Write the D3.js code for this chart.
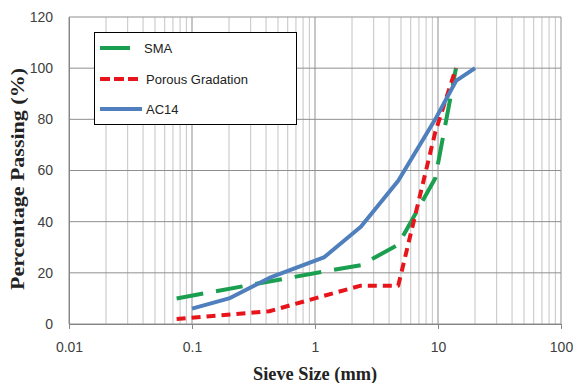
<!DOCTYPE html>
<html>
<head>
<meta charset="utf-8">
<script src="https://cdn.jsdelivr.net/npm/d3@7/dist/d3.min.js"></script>
<style>
  body { margin: 0; background: #fff; }
  svg { display: block; }
</style>
</head>
<body>
<div id="chart"></div>
<script>
// sieve sizes (mm) and percentage passing
const smaSizes = [0.075, 1.18, 2.36, 4.75, 9.5, 14];
const smaValues = [10, 20.5, 23, 31, 57, 100];

const porousSizes = [0.075, 0.425, 1.18, 2.36, 4.75, 9.5, 14];
const porousValues = [2, 5, 11, 15, 15, 75, 100];

const ac14Sizes = [0.1, 0.2, 0.425, 1.18, 2.36, 4.75, 9.5, 14, 20];
const ac14Values = [6, 10, 18, 26, 38, 56, 80, 95, 100];

const xTicks = [0.01, 0.1, 1, 10, 100];
const xTickLabels = ['0.01', '0.1', '1', '10', '100'];
const yTicks = [0, 20, 40, 60, 80, 100, 120];

const width = 574, height = 383;
const margin = { top: 17, right: 13, bottom: 59, left: 69 };

const svg = d3.select('#chart')
  .append('svg')
  .attr('width', width)
  .attr('height', height);

const x = d3.scaleLog()
  .domain([0.01, 100])
  .range([margin.left, width - margin.right]);

const y = d3.scaleLinear()
  .domain([0, 120])
  .range([height - margin.bottom, margin.top]);

// minor vertical gridlines, 2..9 in every decade
const minor = [];
for (let d = 0.01; d < 100; d *= 10) {
  for (let k = 2; k <= 9; k++) minor.push(d * k);
}

svg.append('g')
  .selectAll('line')
  .data(minor)
  .enter()
  .append('line')
  .attr('x1', d => x(d))
  .attr('x2', d => x(d))
  .attr('y1', y(0))
  .attr('y2', y(120))
  .attr('stroke', '#c4c4c4')
  .attr('stroke-width', 1);

// major vertical gridlines
svg.append('g')
  .selectAll('line')
  .data(xTicks)
  .enter()
  .append('line')
  .attr('x1', d => x(d))
  .attr('x2', d => x(d))
  .attr('y1', y(0))
  .attr('y2', y(120))
  .attr('stroke', '#8f8f8f')
  .attr('stroke-width', 1);

// horizontal gridlines
svg.append('g')
  .selectAll('line')
  .data(yTicks)
  .enter()
  .append('line')
  .attr('x1', x(0.01))
  .attr('x2', x(100))
  .attr('y1', d => y(d))
  .attr('y2', d => y(d))
  .attr('stroke', '#8f8f8f')
  .attr('stroke-width', 1);

// axes
const xAxis = d3.axisBottom(x)
  .tickValues(xTicks)
  .tickFormat((d, i) => xTickLabels[i])
  .tickSizeInner(5)
  .tickSizeOuter(0)
  .tickPadding(13);

const yAxis = d3.axisLeft(y)
  .tickValues(yTicks)
  .tickSizeInner(0)
  .tickSizeOuter(0)
  .tickPadding(16);

const gx = svg.append('g')
  .attr('transform', `translate(0, ${y(0)})`)
  .call(xAxis);

const gy = svg.append('g')
  .attr('transform', `translate(${x(0.01)}, 0)`)
  .call(yAxis);

[gx, gy].forEach(g => {
  g.select('.domain').attr('stroke', '#868686');
  g.selectAll('.tick line').attr('stroke', '#868686');
  g.selectAll('.tick text')
    .attr('fill', '#404040')
    .style('font-family', '"Liberation Sans", Arial, sans-serif')
    .style('font-size', '14px');
});

// axis titles
svg.append('text')
  .attr('x', 315)
  .attr('y', 380)
  .attr('text-anchor', 'middle')
  .attr('textLength', 124)
  .attr('lengthAdjust', 'spacingAndGlyphs')
  .style('font-family', '"Liberation Serif", "Times New Roman", serif')
  .style('font-weight', 'bold')
  .style('font-size', '18px')
  .attr('fill', '#222')
  .text('Sieve Size (mm)');

svg.append('text')
  .attr('transform', 'translate(24, 179) rotate(-90)')
  .attr('text-anchor', 'middle')
  .attr('textLength', 222)
  .attr('lengthAdjust', 'spacingAndGlyphs')
  .style('font-family', '"Liberation Serif", "Times New Roman", serif')
  .style('font-weight', 'bold')
  .style('font-size', '18px')
  .attr('fill', '#222')
  .text('Percentage Passing (%)');

// series
const series = [
  { name: 'SMA', sizes: smaSizes, values: smaValues, color: '#1a9e4f', dash: '27,13' },
  { name: 'Porous Gradation', sizes: porousSizes, values: porousValues, color: '#e8141b', dash: '9,6' },
  { name: 'AC14', sizes: ac14Sizes, values: ac14Values, color: '#4f7fbc', dash: null },
];

const line = d3.line()
  .x(d => x(d[0]))
  .y(d => y(d[1]));

series.forEach(s => {
  svg.append('path')
    .datum(d3.zip(s.sizes, s.values))
    .attr('fill', 'none')
    .attr('stroke', s.color)
    .attr('stroke-width', 4)
    .attr('stroke-linejoin', 'round')
    .attr('stroke-dasharray', s.dash)
    .attr('d', line);
});

// legend
const legend = svg.append('g').attr('transform', 'translate(94, 32)');

legend.append('rect')
  .attr('x', 0.5)
  .attr('y', 0.5)
  .attr('width', 202)
  .attr('height', 92)
  .attr('fill', '#fff')
  .attr('stroke', '#000')
  .attr('stroke-width', 1);

const legendRows = [
  { y: 16, x2: 36, tx: 50 },
  { y: 47, x2: 47, tx: 52 },
  { y: 77, x2: 48, tx: 52 },
];

series.forEach((s, i) => {
  const r = legendRows[i];
  legend.append('line')
    .attr('x1', 6)
    .attr('x2', r.x2)
    .attr('y1', r.y)
    .attr('y2', r.y)
    .attr('stroke', s.color)
    .attr('stroke-width', 4)
    .attr('stroke-dasharray', i === 1 ? '10,4' : null);
  legend.append('text')
    .attr('x', r.tx)
    .attr('y', r.y)
    .attr('dy', '0.35em')
    .style('font-family', '"Liberation Sans", Arial, sans-serif')
    .style('font-size', '13px')
    .attr('fill', '#222')
    .text(s.name);
});
</script>
</body>
</html>
